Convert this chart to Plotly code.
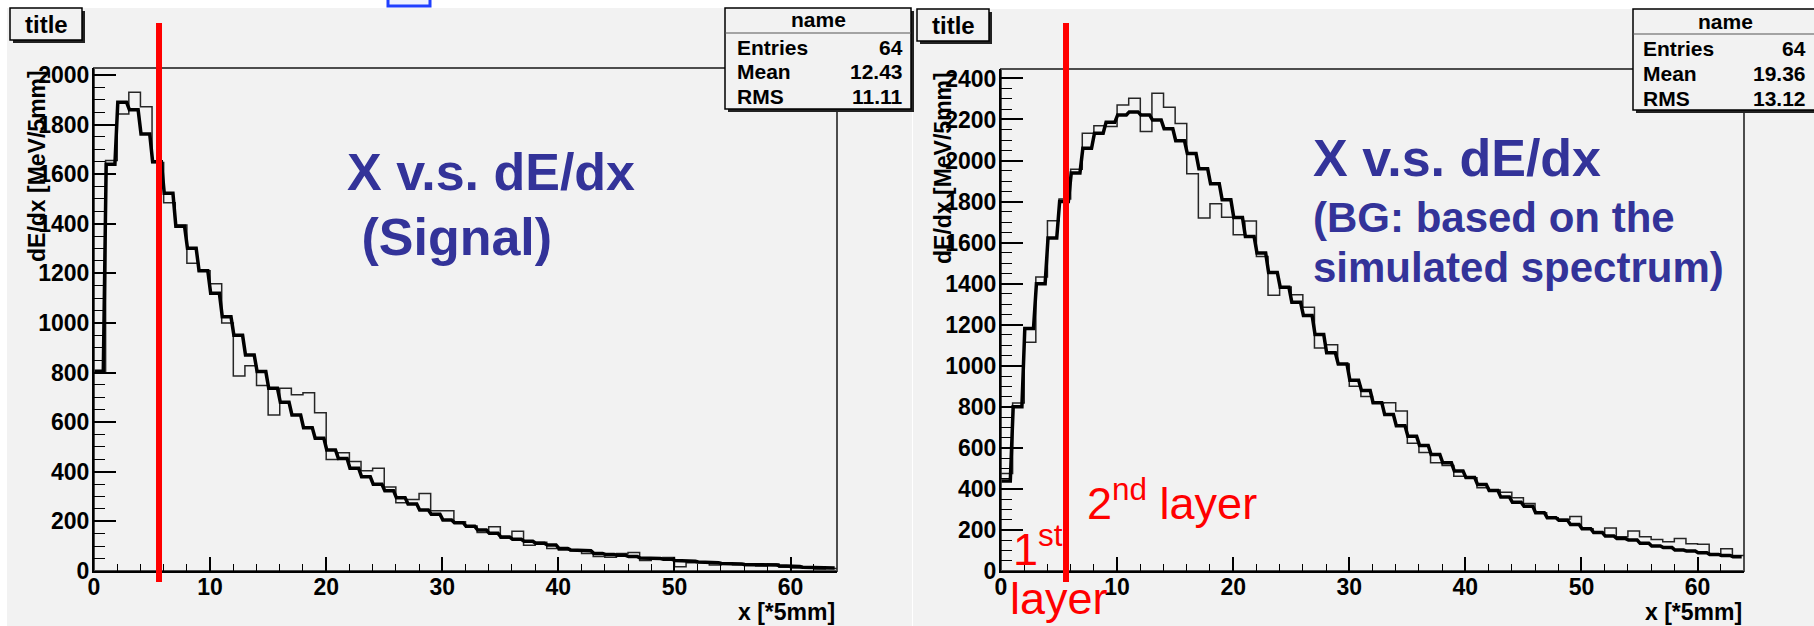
import plotly.graph_objects as go

W, H = 1814, 626
FONT = "Liberation Sans"

# ---------------- data ----------------
n_bins = 64
sig_hist = [800, 1655, 1843, 1930, 1872, 1647, 1485, 1395, 1241, 1211,
            1158, 1000, 786, 828, 748, 629, 737, 711, 719, 638,
            450, 477, 441, 404, 414, 339, 275, 288, 312, 243,
            243, 199, 181, 155, 178, 132, 160, 104, 116, 91,
            85, 82, 71, 58, 55, 71, 75, 42, 47, 54,
            17, 33, 34, 24, 28, 25, 22, 20, 28, 15,
            12, 14, 8, 10]
sig_smooth = [805, 1640, 1890, 1860, 1762, 1650, 1523, 1390, 1301, 1211,
              1120, 1025, 950, 871, 804, 737, 680, 629, 578, 535,
              488, 454, 414, 380, 350, 324, 295, 270, 246, 229,
              206, 195, 180, 165, 152, 137, 128, 120, 112, 105,
              91, 85, 82, 71, 67, 63, 58, 52, 50, 47,
              42, 39, 36, 33, 30, 28, 26, 25, 24, 21,
              18, 15, 13, 12]
bg_hist = [475, 819, 1114, 1432, 1707, 1812, 1957, 2133, 2169, 2166,
           2271, 2304, 2142, 2328, 2260, 2180, 1935, 1720, 1789, 1724,
           1638, 1705, 1532, 1343, 1384, 1346, 1285, 1087, 1103, 1009,
           900, 850, 819, 820, 780, 623, 578, 527, 514, 462,
           454, 406, 395, 384, 357, 329, 284, 260, 252, 265,
           206, 187, 209, 167, 195, 167, 154, 143, 158, 133,
           130, 81, 109, 76]
bg_smooth = [438, 800, 1182, 1400, 1622, 1800, 1939, 2060, 2133, 2186,
             2222, 2237, 2222, 2197, 2155, 2097, 2034, 1960, 1887, 1809,
             1722, 1630, 1549, 1455, 1383, 1310, 1245, 1152, 1063, 1009,
             930, 880, 820, 762, 708, 656, 612, 568, 527, 487,
             455, 422, 392, 360, 335, 316, 284, 260, 247, 227,
             206, 187, 170, 158, 151, 135, 122, 114, 102, 97,
             89, 81, 76, 70]
layer_edge = 5.6
stat_names = ["Entries", "Mean", "RMS"]
sig_stats = ["64", "12.43", "11.11"]
bg_stats = ["64", "19.36", "13.12"]
x_tickvals = [0, 10, 20, 30, 40, 50, 60]
sig_tickvals = [0, 200, 400, 600, 800, 1000, 1200, 1400, 1600, 1800, 2000]
bg_tickvals = [0, 200, 400, 600, 800, 1000, 1200, 1400, 1600, 1800, 2000, 2200, 2400]
x_title = "x [*5mm]"
y_title = "dE/dx [MeV/5mm]"

# ---------------- helpers ----------------
def px(x):
    return x / W

def py(y):
    return 1 - y / H

PANEL = "#f2f2f2"
BLUE = "#333399"

def hist_xy(vals):
    xs = list(range(n_bins + 1))
    ys = list(vals) + [vals[-1]]
    return xs, ys

def smooth_xy(vals):
    xs, ys = [], []
    for i, v in enumerate(vals):
        xs += [i + 0.05, i + 0.8]
        ys += [v, v]
    return xs, ys

fig = go.Figure()
for vals_h, vals_s, xa, ya in [(sig_hist, sig_smooth, "x", "y"), (bg_hist, bg_smooth, "x2", "y2")]:
    hx, hy = hist_xy(vals_h)
    fig.add_trace(go.Scatter(x=hx, y=hy, mode="lines", line=dict(shape="hv", color="#262626", width=1.5),
                             xaxis=xa, yaxis=ya, showlegend=False, hoverinfo="skip"))
    sx, sy = smooth_xy(vals_s)
    fig.add_trace(go.Scatter(x=sx, y=sy, mode="lines", line=dict(color="black", width=3.5),
                             xaxis=xa, yaxis=ya, showlegend=False, hoverinfo="skip"))

TICK_SIZE = 23

def tf():
    return dict(family=FONT, size=TICK_SIZE, color="black")

def xaxis(d0, d1, anchor):
    return dict(domain=[px(d0), px(d1)], range=[0, n_bins], showgrid=False, zeroline=False,
                showline=True, linecolor="black", linewidth=2, ticks="inside", ticklen=14,
                tickwidth=1.5, tickcolor="black", tickmode="array", tickvals=x_tickvals,
                ticktext=["<b>%d</b>" % v for v in x_tickvals],
                minor=dict(ticks="inside", ticklen=7, tickwidth=1.2, tickcolor="black", dtick=2,
                           tick0=0, showgrid=False),
                tickfont=tf(), anchor=anchor, fixedrange=True, ticklabelstandoff=-6)

def yaxis(top_px, ymax, anchor, tv):
    return dict(domain=[py(571), py(top_px)], range=[0, ymax], showgrid=False, zeroline=False,
                showline=True, linecolor="black", linewidth=2, ticks="inside", ticklen=22,
                tickwidth=1.5, tickcolor="black", tickmode="array", tickvals=tv,
                ticktext=["<b>%d</b>" % v for v in tv],
                minor=dict(ticks="inside", ticklen=11, tickwidth=1.2, tickcolor="black", dtick=50,
                           tick0=0, showgrid=False),
                tickfont=tf(), anchor=anchor, fixedrange=True, ticklabelstandoff=-2)

L_X0, L_X1, L_TOP = 94, 837, 68
R_X0, R_X1, R_TOP = 1001, 1744, 69

shapes = []
# panel backgrounds
shapes.append(dict(type="rect", xref="paper", yref="paper", x0=px(7), x1=px(912), y0=py(626), y1=py(8),
                   fillcolor=PANEL, line=dict(width=0), layer="below"))
shapes.append(dict(type="rect", xref="paper", yref="paper", x0=px(913), x1=px(1814), y0=py(626), y1=py(9),
                   fillcolor=PANEL, line=dict(width=0), layer="below"))
# frames (top/right lines)
for x0, x1, top in [(L_X0, L_X1, L_TOP), (R_X0, R_X1, R_TOP)]:
    shapes.append(dict(type="rect", xref="paper", yref="paper", x0=px(x0), x1=px(x1), y0=py(571), y1=py(top),
                       line=dict(color="#4d4d4d", width=2), layer="below"))
# small blue square at top
shapes.append(dict(type="rect", xref="paper", yref="paper", x0=px(388), x1=px(430), y0=py(6), y1=py(-6),
                   fillcolor="#eef2ff", line=dict(color="#1f3fff", width=3), layer="above"))
# title boxes
for x0, x1, y0, y1 in [(10, 82, 8, 40), (917, 989, 9, 41)]:
    shapes.append(dict(type="rect", xref="paper", yref="paper", x0=px(x0 + 3), x1=px(x1 + 3), y0=py(y1 + 3), y1=py(y0 + 3),
                       fillcolor="#222222", line=dict(width=0), layer="above"))
    shapes.append(dict(type="rect", xref="paper", yref="paper", x0=px(x0), x1=px(x1), y0=py(y1), y1=py(y0),
                       fillcolor=PANEL, line=dict(color="black", width=1.5), layer="above"))
# stats boxes
for x0, x1, y0, y1, ydiv in [(725, 911, 8, 109, 33), (1633, 1818, 9, 110, 34)]:
    shapes.append(dict(type="rect", xref="paper", yref="paper", x0=px(x0 + 3), x1=px(x1 + 3), y0=py(y1 + 3), y1=py(y0 + 3),
                       fillcolor="#222222", line=dict(width=0), layer="above"))
    shapes.append(dict(type="rect", xref="paper", yref="paper", x0=px(x0), x1=px(x1), y0=py(y1), y1=py(y0),
                       fillcolor=PANEL, line=dict(color="black", width=1.5), layer="above"))
    shapes.append(dict(type="line", xref="paper", yref="paper", x0=px(x0), x1=px(x1), y0=py(ydiv), y1=py(ydiv),
                       line=dict(color="#555555", width=1.2), layer="above"))
# red layer boundary lines
for xr in ["x", "x2"]:
    shapes.append(dict(type="line", xref=xr, yref="paper", x0=layer_edge, x1=layer_edge, y0=py(582), y1=py(23),
                       line=dict(color="#ff0000", width=6), layer="above"))

ann = []

def text(x, y, s, size, color="black", weight="bold", xanchor="center", yanchor="middle", angle=0):
    ann.append(dict(x=px(x), y=py(y), xref="paper", yref="paper", text=s, showarrow=False,
                    font=dict(family=FONT, size=size, color=color, weight=weight),
                    xanchor=xanchor, yanchor=yanchor, textangle=angle))

# title boxes
text(46, 24, "title", 24)
text(953, 25, "title", 24)
# stats
for (cx, cy, lx, rx, rows, vals) in [(818, 20, 735, 905, [47, 72, 97], sig_stats),
                                     (1725, 21, 1641, 1808, [48, 73, 98], bg_stats)]:
    text(cx, cy, "name", 21)
    for nm, v, yy in zip(stat_names, vals, rows):
        text(lx, yy, nm, 21, xanchor="left")
        text(rx, yy, v, 21, xanchor="right")
# axis titles
text(37, 68, y_title, 23, yanchor="top", angle=-90)
text(943, 70, y_title, 23, yanchor="top", angle=-90)
text(L_X1, 612, x_title, 23, xanchor="right")
text(R_X1, 612, x_title, 23, xanchor="right")
# blue annotations
text(345, 172, "X v.s. dE/dx", 52, color=BLUE, xanchor="left")
text(345, 237, "\u00a0(Signal)", 52, color=BLUE, xanchor="left")
text(1311, 158, "X v.s. dE/dx", 52, color=BLUE, xanchor="left")
text(1311, 217, "(BG: based on the", 42, color=BLUE, xanchor="left")
text(1311, 267, "simulated spectrum)", 42, color=BLUE, xanchor="left")
# red layer labels
text(1085, 500, "2<sup>nd</sup> layer", 45, color="#ff0000", weight="normal", xanchor="left")
text(1011, 546, "1<sup>st</sup>", 45, color="#ff0000", weight="normal", xanchor="left")
text(1008, 598, "layer", 45, color="#ff0000", weight="normal", xanchor="left")

fig.update_layout(
    width=W, height=H, margin=dict(l=0, r=0, t=0, b=0, autoexpand=False),
    paper_bgcolor="white", plot_bgcolor="rgba(0,0,0,0)",
    font=dict(family=FONT, size=22, color="black"),
    xaxis=xaxis(L_X0, L_X1, "y"), yaxis=yaxis(L_TOP, 2028, "x", sig_tickvals),
    xaxis2=xaxis(R_X0, R_X1, "y2"), yaxis2=yaxis(R_TOP, 2446, "x2", bg_tickvals),
    shapes=shapes, annotations=ann, showlegend=False,
)

fig.write_html("out.html", config={"displayModeBar": False},
               post_script="document.body.style.margin='0';document.body.style.overflow='hidden';")
